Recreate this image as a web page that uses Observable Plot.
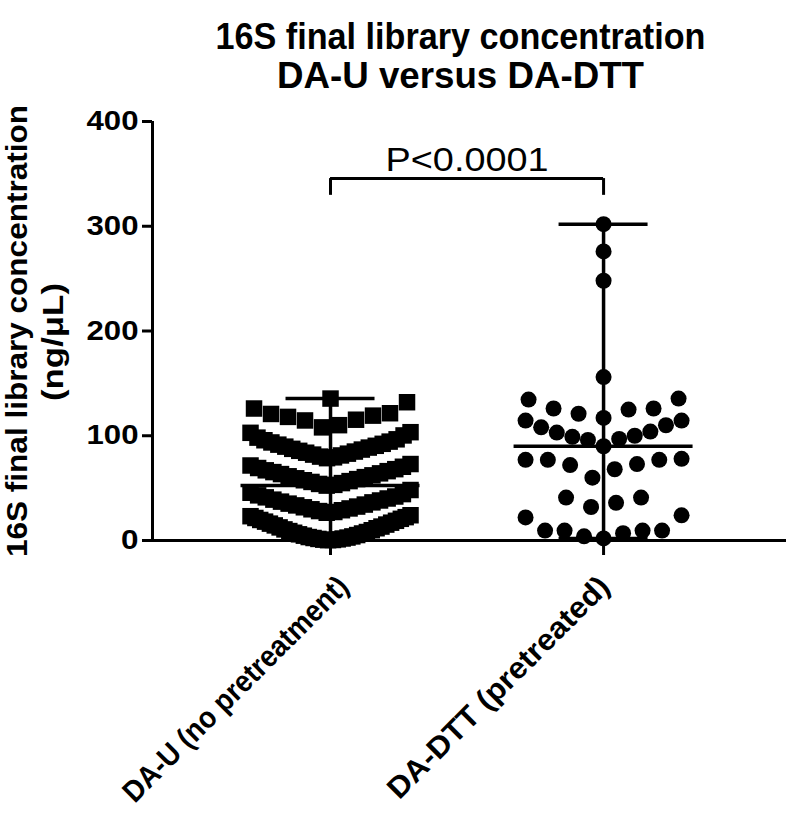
<!DOCTYPE html>
<html>
<head>
<meta charset="utf-8">
<script src="https://cdn.jsdelivr.net/npm/d3@7"></script>
<script src="https://cdn.jsdelivr.net/npm/@observablehq/plot@0.6"></script>
<style>
  html, body { margin: 0; padding: 0; background: #fff; }
  #chart svg { display: block; }
</style>
</head>
<body>
<div id="chart"></div>
<script>
// ---------- data ----------
const categories = ["DA-U (no pretreatment)", "DA-DTT (pretreated)"];

// DA-U (no pretreatment), ng/µL (squares)
const daU = [
  0.3, 0.5, 0.8, 1.1, 1.5, 1.9, 2.4, 2.8, 3.3, 3.9, 4.6, 5.2, 5.9, 6.7, 7.4, 8.1, 9.0,
  9.8, 10.6, 11.7, 12.5, 13.3, 14.4, 15.2, 16.1, 17.0, 18.0, 18.8, 19.6, 20.7, 21.5,
  22.3, 23.2, 24.1,
  26.5, 27.2, 28.1, 28.9, 29.8, 30.6, 31.7, 32.4, 33.5, 34.3, 35.2, 36.4, 37.1, 38.2,
  39.0, 40.1, 41.2, 42.0, 43.1, 44.3, 45.6, 48.2,
  52.4, 53.1, 54.0, 54.8, 55.9, 56.7, 57.5, 58.6, 59.4, 60.5, 61.3, 62.2, 63.4, 64.1,
  65.3, 66.2, 67.0, 68.1, 69.2, 70.4, 71.6, 73.0,
  78.6, 79.4, 80.1, 81.2, 82.0, 82.9, 83.8, 84.9, 85.6, 86.8, 87.5, 88.7, 89.6, 90.4,
  91.5, 92.3, 93.6, 94.4, 95.7, 96.6, 98.2, 100.3, 102.8, 103.4,
  108.0, 110.1, 114.6, 115.3, 118.0, 119.2, 120.8, 121.5, 126.0,
  132.0, 135.5
];

// DA-DTT (pretreated), ng/µL (circles)
const daDTT = [
  302, 276, 248, 156,
  135.5, 134.5, 126, 126, 125, 121, 117,
  114.5, 114.5, 110, 108, 104, 103, 100, 99, 97, 96, 90,
  78, 77, 77, 77, 73, 72, 68, 60,
  41, 41, 36, 32,
  24, 22, 9.5, 9.5, 9.5, 9.5, 7, 4, 2
];

const yTicks = [0, 100, 200, 300, 400];
const titleLines = ["16S final library concentration", "DA-U versus DA-DTT"];
const yLabelLines = ["16S final library concentration", "(ng/\u03bcL)"];
const pLabel = "P<0.0001";

// ---------- layout ----------
const W = 787, H = 826;
const mL = 152, mR = 1, mT = 121, mB = 286;
const xDomain = [0.348, 2.67];
const pxPerUnit = (W - mL - mR) / (xDomain[1] - xDomain[0]);
const FONT = "'Liberation Sans', Arial, Helvetica, sans-serif";

// Prism-like column scatter: rows of overlapping values, spread side by side,
// lowest value in the middle and larger ones outward.
function columnScatter(values, gi, binH, maxSpacePx, halfWidthPx) {
  const sorted = values.slice().sort((a, b) => a - b);
  const rows = [];
  let cur = null;
  for (const v of sorted) {
    if (!cur || v > cur.start + binH) { cur = {start: v, vals: []}; rows.push(cur); }
    cur.vals.push(v);
  }
  const out = [];
  for (const row of rows) {
    const n = row.vals.length;
    const sp = n > 1 ? Math.min(maxSpacePx, 2 * halfWidthPx / (n - 1)) : 0;
    row.vals.forEach((v, i) => {
      let slot;
      if (n % 2 === 1) slot = i === 0 ? 0 : (i % 2 === 1 ? -Math.ceil(i / 2) : Math.ceil(i / 2));
      else { const k = Math.floor(i / 2) + 0.5; slot = i % 2 === 0 ? -k : k; }
      out.push({gi, value: v, xpos: gi + slot * sp / pxPerUnit});
    });
  }
  return out;
}

const ptsU = columnScatter(daU, 1, 25, 17, 80);
const ptsD = columnScatter(daDTT, 2, 25, 25, 78);

const stats = [daU, daDTT].map((vals, i) => ({
  gi: i + 1,
  min: d3.min(vals), max: d3.max(vals), median: d3.median(vals)
}));
const capHalf = 44.5 / pxPerUnit;
const medHalf = 89.5 / pxPerUnit;

const bracketY = d3.max(daDTT) + 43.5;
const bracketDrop = 16;
const comparison = [{x1: 1, x2: 2, y: bracketY, label: pLabel}];

const labelStyle = {rotate: -45, textAnchor: "end", lineAnchor: "middle", fontSize: 30,
  fontWeight: "bold", fill: "#000"};

const plot = Plot.plot({
  width: W, height: H,
  marginLeft: mL, marginRight: mR, marginTop: mT, marginBottom: mB,
  x: {domain: xDomain, axis: null},
  y: {domain: [0, 400], axis: null},
  style: {fontFamily: FONT, background: "#fff", color: "#000", overflow: "visible"},
  marks: [
    // axes
    Plot.axisY({ticks: yTicks, tickSize: 10, tickPadding: 4, fontSize: 27, fontWeight: "bold",
      strokeWidth: 3, label: null, tickFormat: d => String(d)}),
    Plot.axisX({ticks: [1, 2], tickSize: 15, strokeWidth: 3, label: null, tickFormat: () => ""}),
    Plot.ruleX([xDomain[0]], {y1: 0, y2: 400, stroke: "#000", strokeWidth: 3}),
    Plot.ruleY([0], {stroke: "#000", strokeWidth: 3}),

    // points
    Plot.dot(ptsU, {x: "xpos", y: "value", symbol: "square", r: 9.3, fill: "#000", stroke: "none"}),
    Plot.dot(ptsD, {x: "xpos", y: "value", symbol: "circle", r: 8, fill: "#000", stroke: "none"}),

    // median with range
    Plot.ruleX(stats, {x: "gi", y1: "min", y2: "max", stroke: "#000", strokeWidth: 3.5}),
    Plot.ruleY(stats, {y: "max", x1: d => d.gi - capHalf, x2: d => d.gi + capHalf, stroke: "#000", strokeWidth: 3.5}),
    Plot.ruleY(stats, {y: "min", x1: d => d.gi - capHalf, x2: d => d.gi + capHalf, stroke: "#000", strokeWidth: 3.5}),
    Plot.ruleY(stats, {y: "median", x1: d => d.gi - medHalf, x2: d => d.gi + medHalf, stroke: "#000", strokeWidth: 3.5}),

    // significance bracket
    Plot.ruleY(comparison, {y: "y", x1: "x1", x2: "x2", stroke: "#000", strokeWidth: 3}),
    Plot.ruleX(comparison, {x: "x1", y1: d => d.y - bracketDrop, y2: "y", stroke: "#000", strokeWidth: 3}),
    Plot.ruleX(comparison, {x: "x2", y1: d => d.y - bracketDrop, y2: "y", stroke: "#000", strokeWidth: 3}),
    Plot.text(comparison, {x: d => (d.x1 + d.x2) / 2, y: "y", text: "label", dy: -18,
      fontSize: 34, textAnchor: "middle", lineAnchor: "middle", fill: "#000"}),

    // category labels (rotated)
    Plot.text([categories[0]], {x: () => 1, y: () => 0, dx: 13, dy: 41, ...labelStyle}),
    Plot.text([categories[1]], {x: () => 2, y: () => 0, dx: 1, dy: 41, ...labelStyle}),

    // title
    Plot.text([titleLines[0]], {frameAnchor: "top-left", dx: 308, dy: -84.6, fontSize: 37,
      fontWeight: "bold", textAnchor: "middle", lineAnchor: "middle", fill: "#000"}),
    Plot.text([titleLines[1]], {frameAnchor: "top-left", dx: 308, dy: -45, fontSize: 37,
      fontWeight: "bold", textAnchor: "middle", lineAnchor: "middle", fill: "#000"}),

    // y-axis title
    Plot.text([yLabelLines[0]], {frameAnchor: "left", dx: -135, rotate: -90, fontSize: 29,
      fontWeight: "bold", textAnchor: "middle", lineAnchor: "middle", fill: "#000"}),
    Plot.text([yLabelLines[1]], {frameAnchor: "left", dx: -99, dy: 11, rotate: -90, fontSize: 29,
      fontWeight: "bold", textAnchor: "middle", lineAnchor: "middle", fill: "#000"})
  ]
});

// fit text lengths to the reference
const lengthFor = new Map([
  ["400", 52], ["300", 52], ["200", 52], ["100", 52], ["0", 17.5],
  [titleLines[1], 367], [yLabelLines[1], 118], [pLabel, 163],
  [categories[0], 305], [categories[1], 300]
]);
let seen16S = 0;
plot.querySelectorAll("text").forEach(t => {
  const s = t.textContent;
  let len = null;
  if (s === titleLines[0]) { len = seen16S === 0 ? 490 : 452; seen16S++; }
  else if (lengthFor.has(s)) len = lengthFor.get(s);
  if (len != null) {
    t.setAttribute("textLength", len);
    t.setAttribute("lengthAdjust", "spacingAndGlyphs");
  }
});

document.getElementById("chart").appendChild(plot);
</script>
</body>
</html>
